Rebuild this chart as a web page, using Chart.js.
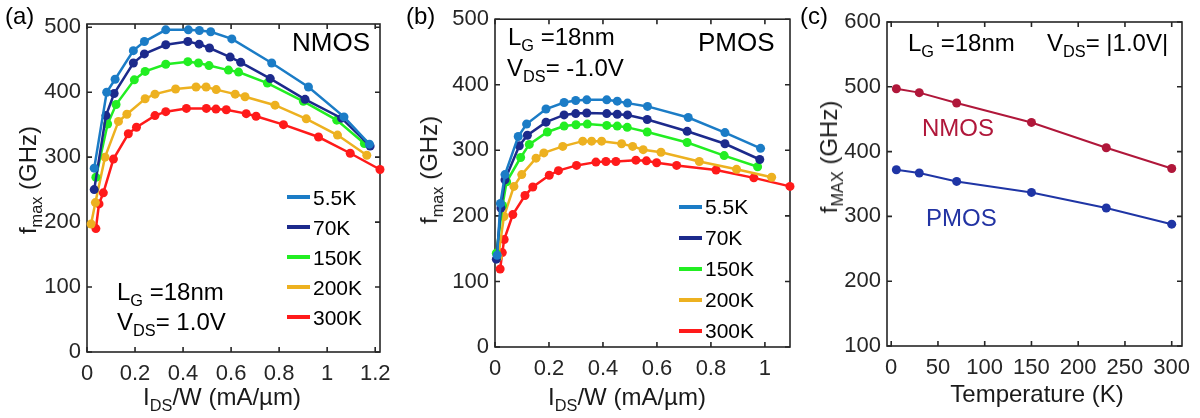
<!DOCTYPE html>
<html>
<head>
<meta charset="utf-8">
<script src="https://cdn.jsdelivr.net/npm/chart.js@4.4.1/dist/chart.umd.min.js"></script>
<style>
  body { margin: 0; width: 1200px; height: 418px; background: #fff; position: relative; overflow: hidden;
         font-family: "Liberation Sans", Arial, sans-serif; color: #000; }
  canvas { position: absolute; top: 0; }
  .t { position: absolute; white-space: nowrap; transform: translateY(-50%); line-height: 1; font-size: 24px; }
  sub { font-size: 0.68em; vertical-align: -0.38em; line-height: 0; }
  .ytitle { position: absolute; transform: translate(-50%, -50%) rotate(-90deg); white-space: nowrap; font-size: 24px; line-height: 1; color: #1a1a1a; }
  .xtitle { position: absolute; transform: translate(-50%, -50%); white-space: nowrap; font-size: 24px; line-height: 1; color: #1a1a1a; }
  .leg { position: absolute; font-size: 21px; line-height: 1; }
  .leg div { display: flex; align-items: center; }
  .leg i { display: inline-block; width: 23px; height: 4px; margin-right: 3px; }
</style>
</head>
<body>
<canvas id="chartA" width="400" height="418" style="left:0"></canvas>
<canvas id="chartB" width="400" height="418" style="left:400px"></canvas>
<canvas id="chartC" width="400" height="418" style="left:800px"></canvas>

<div class="t" style="left:5px;top:16px">(a)</div>
<div class="t" style="left:406px;top:16px">(b)</div>
<div class="t" style="left:800px;top:16px">(c)</div>

<div class="t" style="left:292px;top:42px;font-size:26px">NMOS</div>
<div class="t" style="left:117px;top:292px">L<sub>G</sub> =18nm</div>
<div class="t" style="left:117px;top:322px">V<sub>DS</sub>= 1.0V</div>

<div class="t" style="left:698px;top:42px;font-size:26px">PMOS</div>
<div class="t" style="left:508px;top:37px">L<sub>G</sub> =18nm</div>
<div class="t" style="left:507px;top:68px">V<sub>DS</sub>= -1.0V</div>

<div class="t" style="left:908px;top:43px">L<sub>G</sub> =18nm</div>
<div class="t" style="left:1047px;top:43px">V<sub>DS</sub>= |1.0V|</div>
<div class="t" style="left:922px;top:128px;color:#b0173a">NMOS</div>
<div class="t" style="left:926px;top:218px;color:#2233a3">PMOS</div>

<div class="ytitle" style="left:28px;top:180px">f<sub>max</sub> (GHz)</div>
<div class="ytitle" style="left:429px;top:170px">f<sub>max</sub> (GHz)</div>
<div class="ytitle" style="left:829px;top:157px">f<sub>MAX</sub> (GHz)</div>
<div class="xtitle" style="left:222px;top:397px">I<sub>DS</sub>/W (mA/µm)</div>
<div class="xtitle" style="left:627px;top:397px">I<sub>DS</sub>/W (mA/µm)</div>
<div class="xtitle" style="left:1037px;top:394px">Temperature (K)</div>

<div class="leg" id="legA" style="left:287px;top:182px"></div>
<div class="leg" id="legB" style="left:679px;top:191px"></div>

<script>
'use strict';

// ************************* DATA **********************************
const tempLabels = ['5.5K', '70K', '150K', '200K', '300K'];
const tempColors = ['#1b7cc6', '#1c2a8c', '#22ee22', '#edb120', '#ff1a1a'];

// (a) NMOS, IDS/W (mA/um) vs fmax (GHz)
const nmosX55 = [0.030, 0.082, 0.117, 0.193, 0.239, 0.328, 0.422, 0.468, 0.515, 0.603, 0.769, 0.922, 1.07, 1.176];
const nmosY55 = [283, 400, 420, 464, 478, 496, 496, 495, 493, 482, 445, 408, 362, 320];
const nmosX70 = [0.030, 0.079, 0.113, 0.193, 0.239, 0.328, 0.420, 0.467, 0.510, 0.596, 0.640, 0.763, 0.908, 1.06, 1.179];
const nmosY70 = [250, 364, 398, 445, 459, 473, 478, 474, 468, 454, 446, 421, 389, 360, 317];
const nmosX150 = [0.037, 0.086, 0.121, 0.197, 0.242, 0.328, 0.420, 0.464, 0.508, 0.589, 0.631, 0.751, 0.901, 1.04, 1.155];
const nmosY150 = [269, 351, 381, 419, 432, 443, 447, 445, 441, 434, 431, 414, 386, 357, 321];
const nmosX200 = [0.017, 0.035, 0.075, 0.131, 0.166, 0.242, 0.283, 0.369, 0.454, 0.496, 0.538, 0.617, 0.658, 0.783, 0.913, 1.043, 1.165];
const nmosY200 = [197, 230, 300, 355, 366, 390, 397, 405, 408, 408, 404, 397, 393, 380, 359, 334, 303];
const nmosX300 = [0.037, 0.050, 0.068, 0.110, 0.172, 0.206, 0.283, 0.328, 0.414, 0.497, 0.537, 0.580, 0.663, 0.704, 0.818, 0.964, 1.096, 1.22];
const nmosY300 = [190, 228, 245, 297, 336, 346, 364, 370, 375, 375, 374, 373, 367, 363, 350, 331, 306, 281];

// (b) PMOS
const pmosX55 = [0.008, 0.020, 0.037, 0.086, 0.117, 0.189, 0.256, 0.299, 0.340, 0.414, 0.453, 0.491, 0.565, 0.716, 0.852, 0.984];
const pmosY55 = [140, 219, 263, 321, 340, 363, 373, 376, 377, 377, 375, 372, 367, 350, 327, 303];
const pmosX70 = [0.005, 0.022, 0.037, 0.090, 0.120, 0.189, 0.256, 0.299, 0.340, 0.414, 0.453, 0.491, 0.564, 0.712, 0.852, 0.981];
const pmosY70 = [134, 212, 255, 307, 323, 343, 354, 356, 357, 356, 355, 354, 347, 329, 310, 286];
const pmosX150 = [0.005, 0.028, 0.043, 0.095, 0.127, 0.194, 0.256, 0.300, 0.342, 0.414, 0.453, 0.490, 0.564, 0.712, 0.849, 0.973];
const pmosY150 = [143, 216, 252, 289, 309, 328, 337, 339, 340, 338, 337, 335, 328, 312, 292, 275];
const pmosX200 = [0.012, 0.033, 0.070, 0.099, 0.152, 0.181, 0.251, 0.325, 0.358, 0.395, 0.469, 0.510, 0.549, 0.615, 0.757, 0.895, 1.025];
const pmosY200 = [137, 199, 245, 263, 288, 296, 306, 314, 314, 314, 310, 306, 301, 297, 283, 271, 259];
const pmosX300 = [0.019, 0.027, 0.034, 0.066, 0.111, 0.140, 0.201, 0.235, 0.302, 0.374, 0.411, 0.448, 0.522, 0.561, 0.599, 0.673, 0.819, 0.959, 1.093];
const pmosY300 = [119, 144, 164, 202, 231, 244, 262, 269, 277, 282, 283, 283, 285, 284, 281, 277, 270, 258, 245];

// (c) peak fmax vs temperature
const temps = [5.5, 30, 70, 150, 230, 300];
const peakNmos = [497, 491, 475, 445, 406, 374];
const peakPmos = [372, 367, 354, 337, 313, 288];

// tick values and labels
const xTicksAB = [0, 0.2, 0.4, 0.6, 0.8, 1, 1.2];
const xLabelsAB = ['0', '0.2', '0.4', '0.6', '0.8', '1', '1.2'];
const yTicksAB = [0, 100, 200, 300, 400, 500];
const xTicksC = [0, 50, 100, 150, 200, 250, 300];
const yTicksC = [100, 200, 300, 400, 500, 600];

// ************************ HELPERS ********************************
const toPoints = (xs, ys) => xs.map((x, i) => ({ x: x, y: ys[i] }));

const tickFont = { family: 'Liberation Sans', size: 22 };
const inkColor = '#262626';

// frame with inward ticks on all four sides, like a matlab box
const boxTicks = {
  id: 'boxTicks',
  beforeDatasetsDraw(chart) {
    const { ctx, chartArea: a, scales: { x, y } } = chart;
    const len = 5;
    ctx.save();
    ctx.strokeStyle = inkColor;
    ctx.lineWidth = 1.6;
    ctx.strokeRect(a.left, a.top, a.right - a.left, a.bottom - a.top);
    ctx.beginPath();
    for (const t of x.ticks) {
      const px = x.getPixelForValue(t.value);
      ctx.moveTo(px, a.bottom); ctx.lineTo(px, a.bottom - len);
      ctx.moveTo(px, a.top); ctx.lineTo(px, a.top + len);
    }
    for (const t of y.ticks) {
      const py = y.getPixelForValue(t.value);
      ctx.moveTo(a.left, py); ctx.lineTo(a.left + len, py);
      ctx.moveTo(a.right, py); ctx.lineTo(a.right - len, py);
    }
    ctx.stroke();
    ctx.restore();
  }
};

function makeSet(label, xs, ys, color, width, radius) {
  return {
    label: label,
    data: toPoints(xs, ys),
    showLine: true,
    borderColor: color,
    backgroundColor: color,
    borderWidth: width,
    pointRadius: radius,
    pointBorderWidth: 0,
    pointBackgroundColor: color,
    tension: 0,
    clip: false
  };
}

function makeChart(id, datasets, s) {
  new Chart(document.getElementById(id), {
    type: 'scatter',
    data: { datasets: datasets },
    plugins: [boxTicks],
    options: {
      responsive: false,
      animation: false,
      devicePixelRatio: 1,
      layout: { padding: { left: 0, top: s.top, right: s.right, bottom: 0 } },
      plugins: { legend: { display: false }, tooltip: { enabled: false } },
      scales: {
        x: {
          type: 'linear', min: s.xMin, max: s.xMax,
          afterBuildTicks: sc => { sc.ticks = s.xTicks.map(v => ({ value: v })); },
          afterFit: sc => { sc.height = s.xH; },
          grid: { display: false, drawTicks: false },
          border: { display: false },
          ticks: {
            font: tickFont, color: inkColor, padding: 9, maxRotation: 0, autoSkip: false,
            callback: (v, i) => s.xLabels[i]
          }
        },
        y: {
          type: 'linear', min: s.yMin, max: s.yMax,
          afterBuildTicks: sc => { sc.ticks = s.yTicks.map(v => ({ value: v })); },
          afterFit: sc => { sc.width = s.yW; },
          grid: { display: false, drawTicks: false },
          border: { display: false },
          ticks: { font: tickFont, color: inkColor, padding: 6, callback: v => String(v) }
        }
      }
    }
  });
}

// ************************ BUILD CHARTS ********************************
const nmosXs = [nmosX55, nmosX70, nmosX150, nmosX200, nmosX300];
const nmosYs = [nmosY55, nmosY70, nmosY150, nmosY200, nmosY300];
const pmosXs = [pmosX55, pmosX70, pmosX150, pmosX200, pmosX300];
const pmosYs = [pmosY55, pmosY70, pmosY150, pmosY200, pmosY300];

makeChart('chartA',
  tempLabels.map((l, i) => makeSet(l, nmosXs[i], nmosYs[i], tempColors[i], 2.5, 4.5)),
  { top: 24, right: 20, yW: 87, xH: 66, xMin: 0, xMax: 1.22, yMin: 0, yMax: 505,
    xTicks: xTicksAB, xLabels: xLabelsAB, yTicks: yTicksAB });

makeChart('chartB',
  tempLabels.map((l, i) => makeSet(l, pmosXs[i], pmosYs[i], tempColors[i], 2.5, 4.5)),
  { top: 18, right: 10, yW: 95, xH: 71, xMin: 0, xMax: 1.093, yMin: 0, yMax: 500,
    xTicks: xTicksAB.slice(0, 6), xLabels: xLabelsAB, yTicks: yTicksAB });

makeChart('chartC',
  [makeSet('NMOS', temps, peakNmos, '#b0173a', 2, 4.5), makeSet('PMOS', temps, peakPmos, '#1f35a5', 2, 4.5)],
  { top: 22, right: 18, yW: 87, xH: 72, xMin: -4.5, xMax: 311, yMin: 100, yMax: 600,
    xTicks: xTicksC, xLabels: xTicksC.map(String), yTicks: yTicksC });

// line legends inside (a) and (b)
function buildLegend(id, rowH) {
  const box = document.getElementById(id);
  tempLabels.forEach((l, i) => {
    const row = document.createElement('div');
    row.style.height = rowH + 'px';
    row.innerHTML = `<i style="background:${tempColors[i]}"></i>${l}`;
    box.appendChild(row);
  });
}
buildLegend('legA', 30);
buildLegend('legB', 31);
</script>
</body>
</html>
